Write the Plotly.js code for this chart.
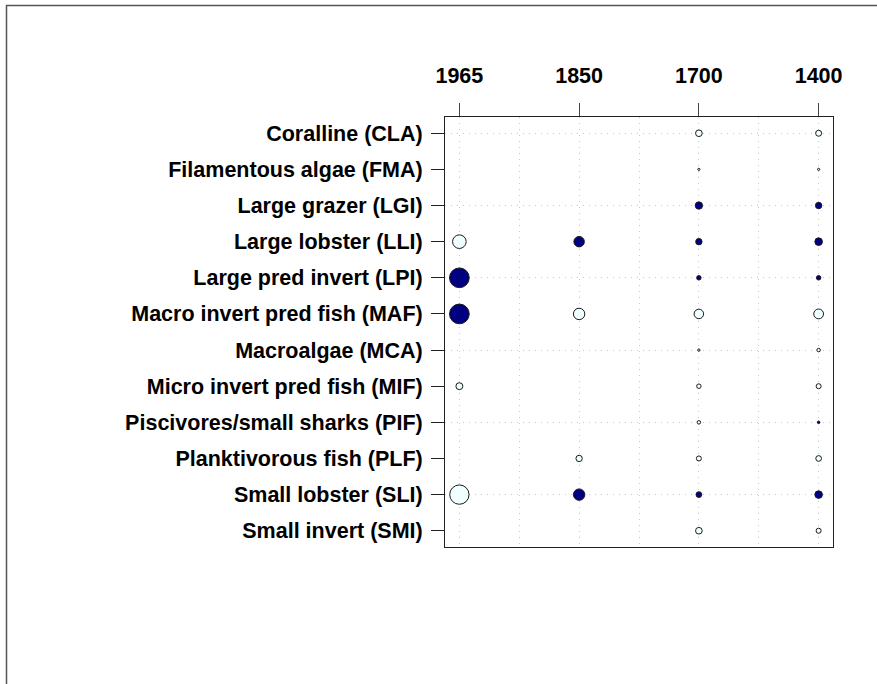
<!DOCTYPE html>
<html>
<head>
<meta charset="utf-8">
<script src="https://cdn.plot.ly/plotly-3.0.1.min.js"></script>
<style>
html,body{margin:0;padding:0;background:#fff;}
#chart{width:877px;height:684px;}
</style>
</head>
<body>
<div id="chart"></div>
<script>
// Groups (rows, top to bottom)
var groups = [
  "Coralline (CLA)",
  "Filamentous algae (FMA)",
  "Large grazer (LGI)",
  "Large lobster (LLI)",
  "Large pred invert (LPI)",
  "Macro invert pred fish (MAF)",
  "Macroalgae (MCA)",
  "Micro invert pred fish (MIF)",
  "Piscivores/small sharks (PIF)",
  "Planktivorous fish (PLF)",
  "Small lobster (SLI)",
  "Small invert (SMI)"
];
// Periods (columns, left to right)
var years = ["1965", "1850", "1700", "1400"];

// Signed effect per group for each period (positive = filled navy, negative = open); null = none
var v1965 = [null, null, null, -1.43, 2.07, 2.07, null, -0.73, null, null, -2.03, null];
var v1850 = [null, null, null, 1.10, null, -1.20, null, null, null, -0.67, 1.20, null];
var v1700 = [-0.70, -0.23, 0.77, 0.67, 0.47, -1.00, -0.25, -0.47, -0.37, -0.53, 0.60, -0.70];
var v1400 = [-0.63, -0.23, 0.67, 0.80, 0.47, -1.03, -0.37, -0.53, 0.27, -0.60, 0.80, -0.53];

var series = [v1965, v1850, v1700, v1400];

var posX = [], posY = [], posS = [];
var negX = [], negY = [], negS = [];
series.forEach(function (vals, j) {
  vals.forEach(function (v, i) {
    if (v === null) return;
    if (v > 0) { posX.push(j); posY.push(i); posS.push(v); }
    else { negX.push(j); negY.push(i); negS.push(-v); }
  });
});

var sizeRef = 0.105;
var traces = [
  {
    type: "scatter", mode: "markers", x: negX, y: negY,
    marker: { size: negS, sizemode: "diameter", sizeref: sizeRef, color: "#F0FFFF", opacity: 1,
              line: { color: "#1a1a1a", width: 1 } },
    hoverinfo: "skip", showlegend: false
  },
  {
    type: "scatter", mode: "markers", x: posX, y: posY,
    marker: { size: posS, sizemode: "diameter", sizeref: sizeRef, color: "#000080", opacity: 1,
              line: { color: "#1a1a1a", width: 1 } },
    hoverinfo: "skip", showlegend: false
  },
  // invisible trace to activate the secondary grid axis
  { type: "scatter", mode: "markers", x: [0], y: [0], yaxis: "y2",
    marker: { opacity: 0 }, hoverinfo: "skip", showlegend: false }
];

var W = 877, H = 684;
var mL = 445, mR = 44, mT = 117, mB = 137;
var pw = W - mL - mR, ph = H - mT - mB;
function px2x(px) { return (px - mL) / pw; }
function px2y(py) { return 1 - (py - mT) / ph; }

var yIdx = groups.map(function (g, i) { return i; });
var gridRows = yIdx.filter(function (i) { return i % 2 === 0; });

var labelFont = { family: "Liberation Sans, Arial, sans-serif", size: 21.5, color: "#000", weight: "bold" };

var layout = {
  width: W, height: H,
  margin: { l: mL, r: mR, t: mT, b: mB, pad: 0 },
  paper_bgcolor: "#ffffff", plot_bgcolor: "#ffffff",
  font: { family: "Liberation Sans, Arial, sans-serif", size: 21, color: "#000" },
  xaxis: {
    side: "top", range: [-0.12, 3.12], tickmode: "array",
    tickvals: years.map(function (y, i) { return i; }), ticktext: years,
    ticks: "outside", ticklen: 13, tickwidth: 1, tickcolor: "#444",
    tickfont: labelFont,
    ticklabelstandoff: 11,
    showgrid: true, gridcolor: "#c8c8c8", gridwidth: 1, griddash: "1px,5px",
    minor: { dtick: 0.5, tick0: 0, showgrid: true, gridcolor: "#c8c8c8", gridwidth: 1, griddash: "1px,5px", ticks: "" },
    showline: true, mirror: true, linecolor: "#222", linewidth: 1,
    zeroline: false, fixedrange: true
  },
  yaxis: {
    range: [11.45, -0.45], tickmode: "array", tickvals: yIdx, ticktext: groups,
    ticks: "outside", ticklen: 13, tickwidth: 1, tickcolor: "#222",
    tickfont: labelFont,
    ticklabelstandoff: 4,
    showgrid: false, showline: true, mirror: true, linecolor: "#222", linewidth: 1,
    zeroline: false, fixedrange: true
  },
  yaxis2: {
    overlaying: "y", range: [11.45, -0.45], tickmode: "array", tickvals: gridRows,
    showticklabels: false, ticks: "", showgrid: true, gridcolor: "#c8c8c8", gridwidth: 1,
    griddash: "1px,5px", zeroline: false, showline: false, fixedrange: true
  },
  shapes: [
    { type: "rect", xref: "paper", yref: "paper", layer: "above",
      x0: px2x(6.5), x1: px2x(900), y0: px2y(5.5), y1: px2y(720),
      line: { color: "#555", width: 1.5 }, fillcolor: "rgba(0,0,0,0)" }
  ]
};

Plotly.newPlot("chart", traces, layout, { displayModeBar: false, staticPlot: true });
</script>
</body>
</html>
